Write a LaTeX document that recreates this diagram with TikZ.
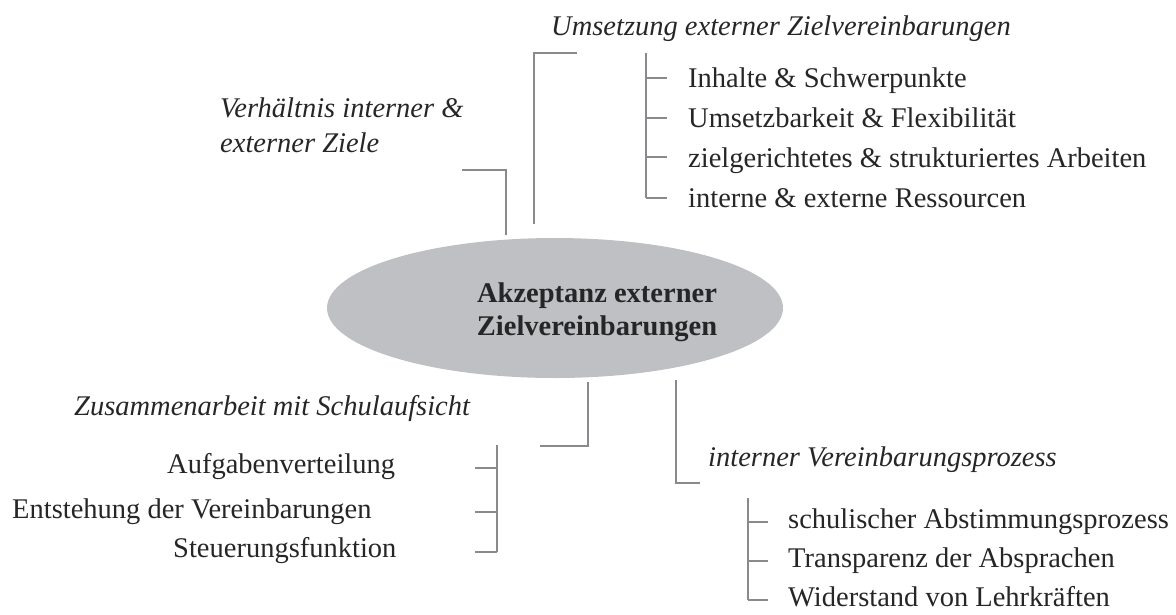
\documentclass[tikz,border=0pt]{standalone}
\usepackage{fontspec}
\setmainfont{Liberation Serif}
\usetikzlibrary{shapes.geometric}
\definecolor{linegray}{HTML}{8A8A8E}
\definecolor{corefill}{HTML}{BFC0C4}
\tikzset{
  conn/.style={draw=linegray, line width=2pt},
  item/.style={inner sep=0pt, font=\fontsize{28.5}{35}\selectfont, text=black!85},
  head/.style={item, font=\fontsize{28.5}{35}\selectfont\itshape},
}
\begin{document}
\begin{tikzpicture}[x=1pt,y=-1pt]
\useasboundingbox (0,0) rectangle (1176,614);

% central topic
\node[ellipse, fill=corefill, minimum width=456pt, minimum height=140pt, inner sep=0pt] (core) at (555,308) {};
\node[align=center, inner sep=0pt, font=\fontsize{28.5}{33}\selectfont\bfseries, text=black!85, anchor=base] (coretext) at (597,335) {Akzeptanz externer\\Zielvereinbarungen};

% headings
\node[head, anchor=base west] (h1) at (551,35) {Umsetzung externer Zielvereinbarungen};
\node[head, anchor=base west] (h2) at (220,117) {Verhältnis interner \&};
\node[head, anchor=base west] (h2b) at (220,152) {externer Ziele};
\node[head, anchor=base west] (h3) at (74,415) {Zusammenarbeit mit Schulaufsicht};
\node[head, anchor=base west] (h4) at (708,466) {interner Vereinbarungsprozess};

% items, upper right
\node[item, anchor=base west] (a1) at (688,87) {Inhalte \& Schwerpunkte};
\node[item, anchor=base west] (a2) at (688,127) {Umsetzbarkeit \& Flexibilität};
\node[item, anchor=base west] (a3) at (688,167) {zielgerichtetes \& strukturiertes Arbeiten};
\node[item, anchor=base west] (a4) at (688,207) {interne \& externe Ressourcen};

% items, lower left
\node[item, anchor=base west] (b1) at (167,473) {Aufgabenverteilung};
\node[item, anchor=base west] (b2) at (12,518) {Entstehung der Vereinbarungen};
\node[item, anchor=base west] (b3) at (173,557) {Steuerungsfunktion};

% items, lower right
\node[item, anchor=base west] (c1) at (788,528) {schulischer Abstimmungsprozess};
\node[item, anchor=base west] (c2) at (788,567) {Transparenz der Absprachen};
\node[item, anchor=base west] (c3) at (788,606) {Widerstand von Lehrkräften};

% connector end points
\coordinate (p1a) at (577,53);  \coordinate (p1b) at (534,53);  \coordinate (p1c) at (534,224);
\coordinate (p2a) at (462,170); \coordinate (p2b) at (506,170); \coordinate (p2c) at (506,235);
\coordinate (p3a) at (588,382); \coordinate (p3b) at (588,446); \coordinate (p3c) at (540,446);
\coordinate (p4a) at (676,380); \coordinate (p4b) at (676,483); \coordinate (p4c) at (700,483);

\draw[conn] (p1a) -- (p1b) -- (p1c);
\draw[conn] (p2a) -- (p2b) -- (p2c);
\draw[conn] (p3a) -- (p3b) -- (p3c);
\draw[conn] (p4a) -- (p4b) -- (p4c);

% tree, upper right
\coordinate (ta) at (646,53);
\coordinate (ta1) at (646,78);  \coordinate (ta2) at (646,118);
\coordinate (ta3) at (646,157); \coordinate (ta4) at (646,198);
\draw[conn] (ta) -- (ta4);
\foreach \t in {ta1,ta2,ta3,ta4} \draw[conn] (\t) -- ++(21,0);

% tree, lower left
\coordinate (tb) at (497,445);
\coordinate (tb1) at (497,468); \coordinate (tb2) at (497,512); \coordinate (tb3) at (497,552);
\draw[conn] (tb) -- (tb3);
\foreach \t in {tb1,tb2,tb3} \draw[conn] (\t) -- ++(-22,0);

% tree, lower right
\coordinate (tc) at (748,498);
\coordinate (tc1) at (748,522); \coordinate (tc2) at (748,561); \coordinate (tc3) at (748,600);
\draw[conn] (tc) -- (tc3);
\foreach \t in {tc1,tc2,tc3} \draw[conn] (\t) -- ++(20,0);
\end{tikzpicture}
\end{document}
